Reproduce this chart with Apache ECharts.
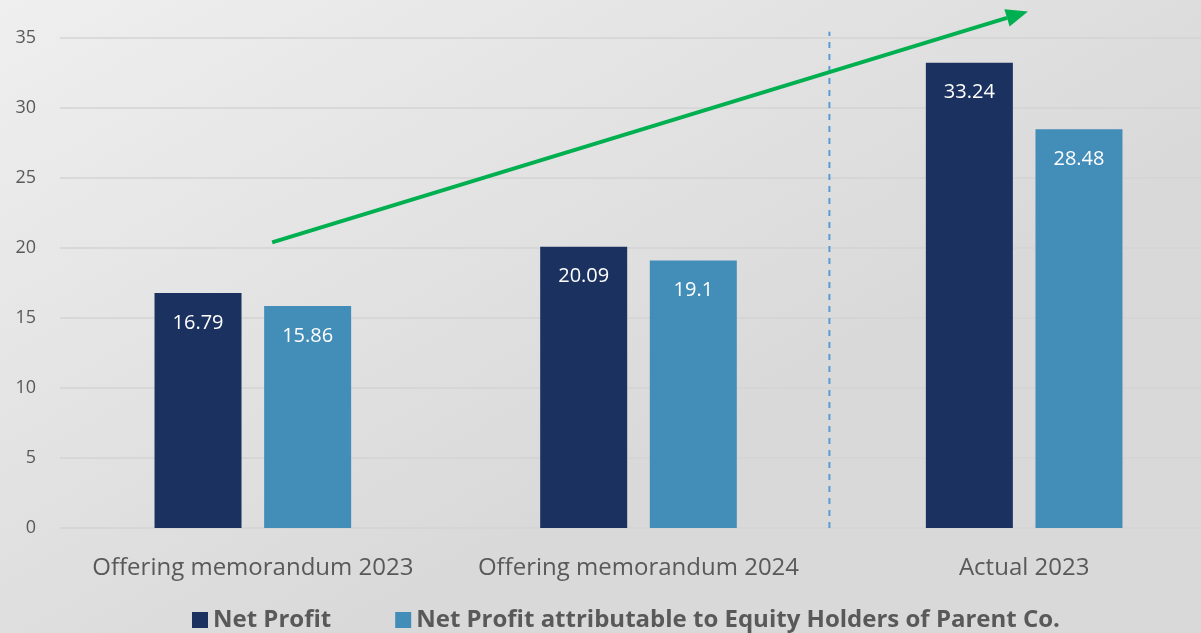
<!DOCTYPE html>
<html>
<head>
<meta charset="utf-8">
<script src="https://cdn.jsdelivr.net/npm/echarts@6/dist/echarts.min.js"></script>
<style>
  html, body { margin: 0; padding: 0; }
  #chart { width: 1201px; height: 633px; }
</style>
</head>
<body>
<div id="chart"></div>
<script>
// data
const categories = ['Offering memorandum 2023', 'Offering memorandum 2024', 'Actual 2023']
const netProfit = [16.79, 20.09, 33.24]
const netProfitParent = [15.86, 19.1, 28.48]
const seriesNames = ['Net Profit', 'Net Profit attributable to Equity Holders of Parent Co.']
// trend arrow and divider, in [category position, value] units
const arrowPoints = [[0.55, 20.4], [2.51, 36.9]]
const dividerAt = 1.995
const dividerTop = 35.45

const chart = echarts.init(document.getElementById('chart'))
const font = 'Open Sans'

chart.setOption({
  backgroundColor: {
    type: 'linear', x: 0, y: 0, x2: 0.3, y2: 1,
    colorStops: [{ offset: 0, color: '#efefef' }, { offset: 1, color: '#d9d9d9' }]
  },
  animation: false,
  textStyle: { fontFamily: font },
  grid: { left: 60, width: 1157, top: 38, bottom: 105, outerBoundsMode: 'none' },
  legend: {
    data: seriesNames,
    bottom: -4,
    left: 187,
    icon: 'rect',
    itemWidth: 16,
    itemHeight: 16,
    itemGap: 64,
    textStyle: { color: '#595959', fontSize: 24, fontWeight: 'bold', fontFamily: font }
  },
  xAxis: [{
    type: 'category',
    data: categories,
    axisLine: { show: false },
    axisTick: { show: false },
    axisLabel: { color: '#595959', fontSize: 24, margin: 28, interval: 0 }
  }, {
    type: 'value',
    min: 0,
    max: 3,
    show: false
  }],
  yAxis: {
    type: 'value',
    min: 0,
    max: 35,
    interval: 5,
    axisLine: { show: false },
    axisTick: { show: false },
    axisLabel: { color: '#595959', fontSize: 18, margin: 24 },
    splitLine: { lineStyle: { color: '#d3d3d3', width: 1.5 } }
  },
  series: [{
    name: seriesNames[0],
    type: 'bar',
    data: netProfit,
    barWidth: 87,
    barGap: '26%',
    itemStyle: { color: '#1b3160' },
    label: { show: true, position: 'insideTop', distance: 20, color: '#fff', fontSize: 20 }
  }, {
    name: seriesNames[1],
    type: 'bar',
    data: netProfitParent,
    barWidth: 87,
    itemStyle: { color: '#438db9' },
    label: { show: true, position: 'insideTop', distance: 20, color: '#fff', fontSize: 20 }
  }]
})

// arrow + dashed divider, placed through the axes
function toPx(p) {
  return chart.convertToPixel({ xAxisIndex: 1, yAxisIndex: 0 }, p)
}
const a = toPx(arrowPoints[0])
const b = toPx(arrowPoints[1])
const dx = b[0] - a[0], dy = b[1] - a[1]
const len = Math.sqrt(dx * dx + dy * dy)
const ux = dx / len, uy = dy / len
const headLen = 22, headHalf = 9
const base = [b[0] - ux * headLen, b[1] - uy * headLen]
const d0 = toPx([dividerAt, 0])
const d1 = toPx([dividerAt, dividerTop])

chart.setOption({
  graphic: [{
    type: 'line',
    shape: { x1: d0[0], y1: d0[1], x2: d1[0], y2: d1[1] },
    style: { stroke: '#5b9bd5', lineWidth: 2, lineDash: [6, 6] }
  }, {
    type: 'line',
    shape: { x1: a[0], y1: a[1], x2: base[0], y2: base[1] },
    style: { stroke: '#00b050', lineWidth: 4 }
  }, {
    type: 'polygon',
    shape: {
      points: [
        b,
        [base[0] - uy * headHalf, base[1] + ux * headHalf],
        [base[0] + uy * headHalf, base[1] - ux * headHalf]
      ]
    },
    style: { fill: '#00b050' }
  }]
})
</script>
</body>
</html>
